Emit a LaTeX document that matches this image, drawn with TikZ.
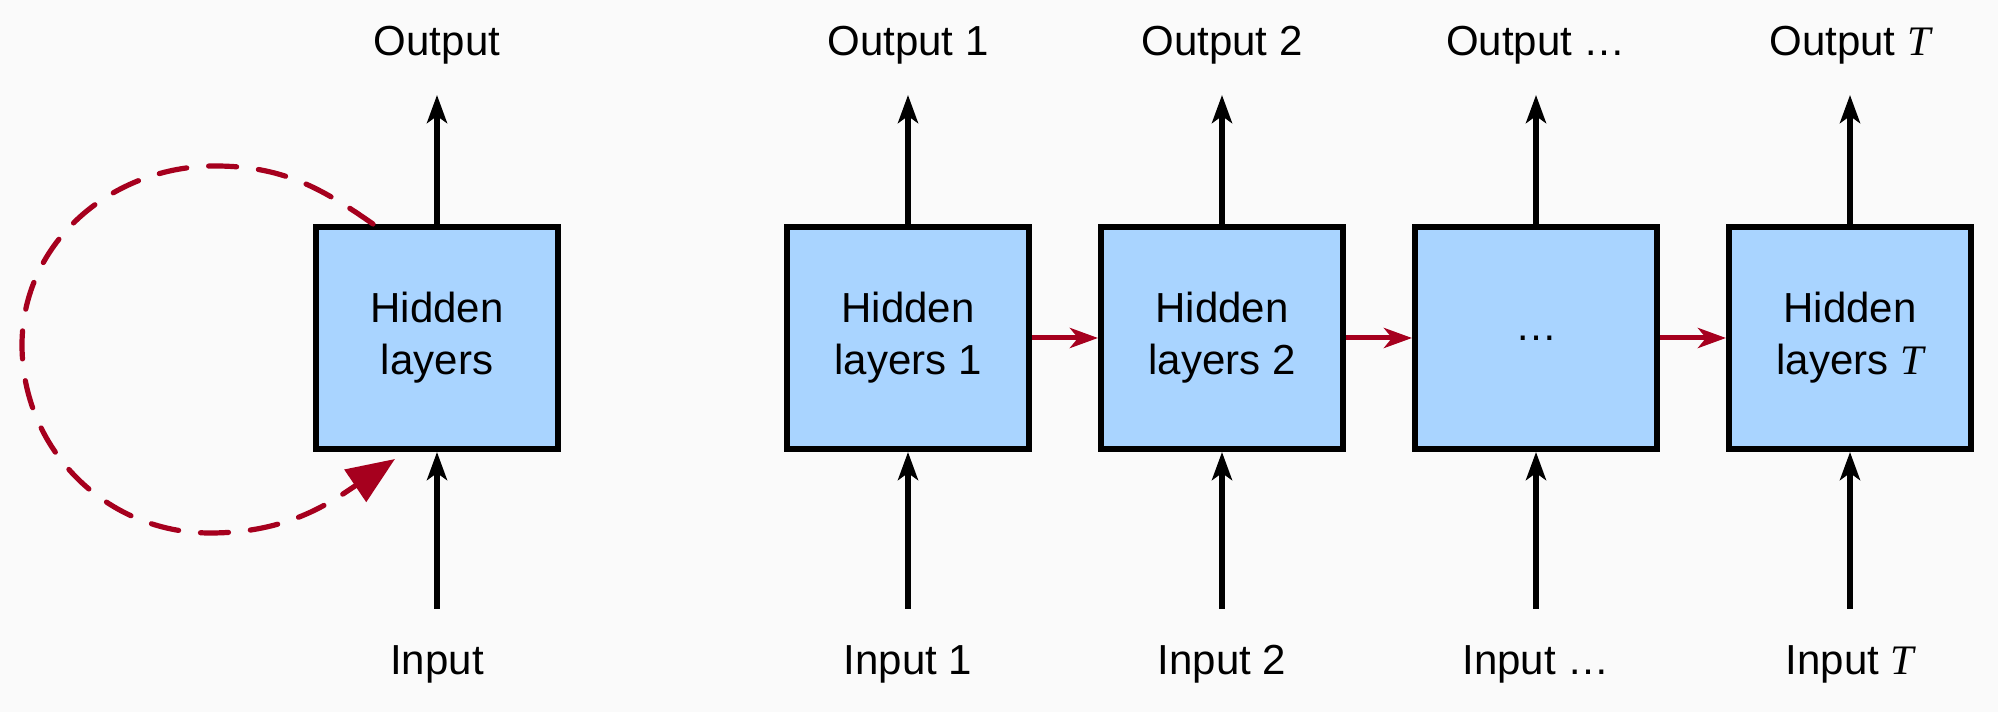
\documentclass[tikz,border=0pt]{standalone}
\usepackage{fontspec}
\setmainfont{Liberation Sans}
\newfontfamily\tfont{Liberation Serif}
\usetikzlibrary{arrows.meta,calc}
\definecolor{bgc}{RGB}{250,250,250}
\definecolor{boxblue}{RGB}{169,212,255}
\definecolor{loopred}{RGB}{166,0,30}
\newcommand{\tvar}{{\tfont\itshape T}}
\begin{document}
\begin{tikzpicture}[x=0.5pt,y=0.5pt,
  hbox/.style={draw=black,line width=3pt,fill=boxblue,minimum width=121pt,minimum height=111pt,inner sep=0pt,align=center,font=\fontsize{21}{26}\selectfont},
  lbl/.style={font=\fontsize{21}{26}\selectfont,anchor=base,inner sep=0pt},
  arr/.style={line width=2.7pt,-{Stealth[length=14pt,width=10pt,inset=3.5pt]}},
  rarr/.style={draw=loopred,line width=2.5pt,-{Stealth[length=14pt,width=10pt,inset=4pt]}},
  loopline/.style={draw=loopred,line width=2.6pt,line cap=round,dash pattern=on 14pt off 11pt,-{Triangle[length=24pt,width=19pt]}}]
\fill[bgc] (0,0) rectangle (1998,712);
\useasboundingbox (0,0) rectangle (1998,712);

% boxes
\node[hbox] (h0) at (437,374) {Hidden\\layers};
\node[hbox] (h1) at (908,374) {Hidden\\layers 1};
\node[hbox] (h2) at (1222,374) {Hidden\\layers 2};
\node[hbox] (h3) at (1536,374) {…};
\node[hbox] (h4) at (1850,374) {Hidden\\layers \tvar};

% outputs
\node[lbl] (o0) at (437,656) {Output};
\node[lbl] (o1) at (908,656) {Output 1};
\node[lbl] (o2) at (1222,656) {Output 2};
\node[lbl] (o3) at (1536,656) {Output …};
\node[lbl] (o4) at (1850,656) {Output \tvar};

% inputs
\node[lbl] (i0) at (437,37) {Input};
\node[lbl] (i1) at (908,37) {Input 1};
\node[lbl] (i2) at (1222,37) {Input 2};
\node[lbl] (i3) at (1536,37) {Input …};
\node[lbl] (i4) at (1850,37) {Input \tvar};

% vertical arrows
\foreach \k in {0,1,2,3,4}{
  \draw[arr] (h\k.north) -- ([yshift=-19.5pt]o\k.base);
  \draw[arr] ([yshift=33pt]i\k.base) -- (h\k.south);
}

% horizontal red arrows
\draw[rarr] (h1.east) -- (h2.west);
\draw[rarr] (h2.east) -- (h3.west);
\draw[rarr] (h3.east) -- (h4.west);

% recurrent loop
\draw[loopline] ([xshift=30pt]h0.north west) to[out=145,in=0] (215,546)
  to[out=180,in=90] (22,367) to[out=270,in=180] (210,179)
  to[out=0,in=214] ([xshift=41pt,yshift=-3.5pt]h0.south west);
\end{tikzpicture}
\end{document}
